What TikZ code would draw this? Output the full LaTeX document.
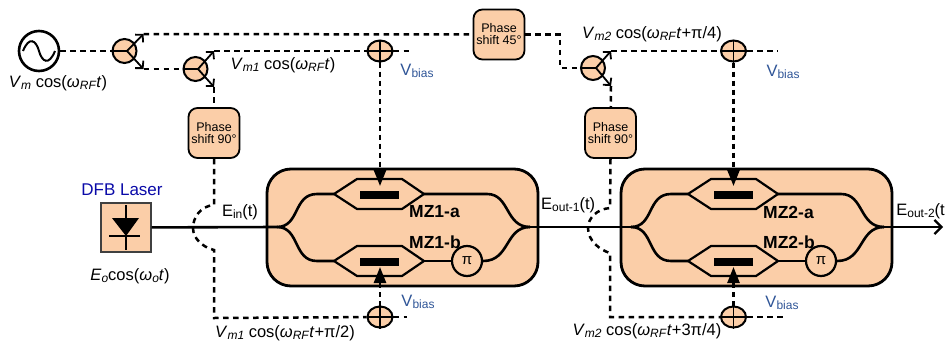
\documentclass[tikz,border=0pt]{standalone}
\usepackage{fontspec}
\setmainfont{Liberation Sans}
\usetikzlibrary{arrows.meta,shapes.geometric,calc}
\definecolor{peach}{HTML}{FBCEA8}
\definecolor{biasblue}{HTML}{2F5597}
\definecolor{dfbblue}{HTML}{0A0AA8}
\newcommand{\fs}[1]{\fontsize{#1}{#1}\selectfont}
\newcommand{\lowr}[1]{\raisebox{-2.5pt}{\fs{12}#1}}
\newcommand{\wt}{\textit{ω}}
\newcommand{\rf}{\lowr{\textit{RF}}}
\tikzset{
  x=1pt,y=-1pt,
  wire/.style={line width=2.6pt,black},
  dash wire/.style={line width=2.5pt,black,dash pattern=on 5.5pt off 4.5pt},
  barbtip/.style={-{Straight Barb[length=5pt,width=11pt,line width=1.8pt]},line width=1.8pt},
  fillhead/.style={-{Triangle[length=16pt,width=12pt]},line width=2.5pt,dash pattern=on 5pt off 4pt},
  modbox/.style={draw,fill=peach,line width=2.8pt,rounded corners=24pt,minimum width=271pt,minimum height=117pt,inner sep=0},
  phasebox/.style={draw,fill=peach,line width=1.8pt,rounded corners=9pt,minimum width=51pt,minimum height=50pt,inner sep=0,align=center,font=\fs{12.5}},
  splitter/.style={circle,draw,fill=peach,line width=2pt,minimum size=24pt,inner sep=0},
  combiner/.style={ellipse,draw,fill=peach,line width=2pt,minimum width=25pt,minimum height=21pt,inner sep=0},
  pinode/.style={circle,draw,fill=peach,line width=2.2pt,minimum size=30pt,inner sep=0,font=\fs{15}},
  hexarm/.style={draw,line width=2.2pt,fill=peach},
  elec/.style={inner sep=0,font=\fs{16.5},anchor=center},
  vbias/.style={inner sep=0,text=biasblue,font=\fs{16.5}},
  mzlabel/.style={inner sep=0,font=\fs{17.5}\bfseries},
}
\newcommand{\mzunit}[4]{%
 % #1 x offset, #2 prefix, #3 label a, #4 label b
 \begin{scope}[shift={(#1,0)}]
  \node[modbox] (#2box) at (402.5,227.5) {};
  \coordinate (#2in) at (277,227);
  \coordinate (#2out) at (530,227);
  \coordinate (#2ua) at (334,194);
  \coordinate (#2ub) at (424,194);
  \coordinate (#2la) at (334,261);
  \coordinate (#2lb) at (424,261);
  \node[pinode] (#2pi) at (467,261) {π};
  \draw[wire] (#2in) .. controls (300,227) and (293,194) .. (317,194) -- (#2ua);
  \draw[wire] (#2in) .. controls (300,227) and (293,261) .. (317,261) -- (#2la);
  \draw[wire] (#2ub) -- (487,194) .. controls (510,194) and (505,227) .. (#2out);
  \draw[wire] (#2lb) -- (#2pi);
  \draw[wire] (#2pi) .. controls (510,261) and (505,227) .. (#2out);
  \draw[hexarm] (#2ua) -- (357,179) -- (402,179) -- (#2ub) -- (402,209) -- (357,209) -- cycle;
  \draw[hexarm] (#2la) -- (357,246) -- (402,246) -- (#2lb) -- (402,276) -- (357,276) -- cycle;
  \fill (360,191) rectangle (399,199);
  \fill (360,258) rectangle (399,266);
  \node[mzlabel,anchor=west] at (409,212) {#3};
  \node[mzlabel,anchor=west] at (409,242) {#4};
 \end{scope}}
\begin{document}
\begin{tikzpicture}
\useasboundingbox (0,0) rectangle (945,343);
% coordinates
\node[circle,draw,line width=2.6pt,minimum size=40pt,inner sep=0] (src) at (39,51) {};
\draw[line width=2pt] (23,51) .. controls (29,36) and (36,40) .. (39,51) .. controls (42,62) and (49,66) .. (55,51);
\node[splitter] (s1) at (124.5,51) {};
\node[splitter] (s2) at (195.5,69) {};
\node[splitter] (s3) at (593,68) {};
\node[combiner] (c1) at (380,51) {};
\node[combiner] (c2) at (380,317) {};
\node[combiner] (c3) at (733.5,51) {};
\node[combiner] (c4) at (733.5,317) {};
\node[phasebox] (p1) at (214,133) {Phase\\[-0.5pt]shift 90°};
\node[phasebox] (p2) at (610.5,133) {Phase\\[-0.5pt]shift 90°};
\node[phasebox] (p3) at (499,34.5) {Phase\\[-0.5pt]shift 45°};
\coordinate (s1c) at (127,51); \coordinate (s2c) at (198,69); \coordinate (s3c) at (596,68);
\coordinate (s1u) at (143.5,34); \coordinate (s1d) at (143.5,69);
\coordinate (s2u) at (214,51); \coordinate (s2d) at (214,87);
\coordinate (s3u) at (611,51); \coordinate (s3d) at (611,86);
\coordinate (k1) at (560,34); \coordinate (k2) at (560,68);
\coordinate (h1a) at (214,205); \coordinate (h1b) at (214,250); \coordinate (b1) at (214,318);
\coordinate (h2a) at (610,208); \coordinate (h2b) at (610,253); \coordinate (b2) at (610,317);
\coordinate (e1) at (410,51); \coordinate (e2) at (407,317); \coordinate (e3) at (778,51); \coordinate (e4) at (783,317);
\mzunit{0}{a}{MZ1-a}{MZ1-b}
\mzunit{354}{b}{MZ2-a}{MZ2-b}
% splitter internals
\foreach \s/\u/\d in {s1/s1u/s1d,s2/s2u/s2d,s3/s3u/s3d}{
  \draw[line width=1.8pt] (\s.west) -- (\s c);
  \draw[barbtip] (\s c) -- (\u);
  \draw[barbtip] (\s c) -- (\d);
}
% combiners
\foreach \c in {c1,c2,c3,c4}{
  \draw[line width=1.4pt] (\c.west) -- (\c.east);
  \draw[line width=1.4pt] (\c.north) -- (\c.south);
}
% RF dashed lines
\draw[dash wire] (src) -- (s1);
\draw[dash wire] (s1u) -- (p3);
\draw[dash wire] (s1d) -- (s2);
\draw[dash wire] (s2u) -- (c1);
\draw[dash wire] (s2d) -- (p1);
\draw[dash wire] (p3) -- (p3 -| k1) -- (k2) -- (s3);
\draw[dash wire] (s3u) -- (c3);
\draw[dash wire] (s3d) -- (p2);
\draw[dash wire] (c1) -- (e1);
\draw[dash wire] (c2) -- (e2);
\draw[dash wire] (c3) -- (e3);
\draw[dash wire] (c4) -- (e4);
\draw[dash wire] (p1.south) -- (h1a) .. controls (200,206) and (193,218) .. (193,228) .. controls (193,238) and (202,247) .. (h1b) -- (b1) -- (c2);
\draw[dash wire] (p2.south) -- (h2a) .. controls (597,209) and (588,218) .. (588,228) .. controls (588,241) and (600,250) .. (h2b) -- (b2) -- (c4);
% laser
\node[draw=black!75,fill=peach,line width=1.2pt,minimum width=50pt,minimum height=49pt,inner sep=0] (las) at (126,227.5) {};
\draw[line width=2.6pt] (126,205) -- (126,250);
\draw[line width=2.6pt] (109,236) -- (140,236);
\fill (112,218) -- (139,218) -- (126,236) -- cycle;
% main fibre
\coordinate (outend) at (943,227);
\draw[wire] (las) -- (ain);
\draw[wire] (aout) -- (bin);
\draw[wire,-{Straight Barb[length=7pt,width=14pt,line width=2.2pt]}] (bout) -- (outend);
% bias arrows
\coordinate (ta) at (380,186); \coordinate (tb) at (380,267);
\coordinate (tc) at (733.5,186); \coordinate (td) at (733.5,267);
\draw[fillhead] (c1) -- (ta);
\draw[fillhead] (c2) -- (tb);
\draw[fillhead] (c3) -- (tc);
\draw[fillhead] (c4) -- (td);
% labels
\node[elec] (t1) at (58,83) {\textit{V}\lowr{\textit{m}} cos(\wt\rf\textit{t})};
\node[elec] (t2) at (283,65) {\textit{V}\lowr{\textit{m1}} cos(\wt\rf\textit{t})};
\node[elec] (t3) at (652,34) {\textit{V}\lowr{\textit{m2}} cos(\wt\rf\textit{t}+π/4)};
\node[elec] (t4) at (285,333) {\textit{V}\lowr{\textit{m1}} cos(\wt\rf\textit{t}+π/2)};
\node[elec] (t5) at (647,331) {\textit{V}\lowr{\textit{m2}} cos(\wt\rf\textit{t}+3π/4)};
\node[elec] (t6) at (130,276) {\textit{E}\lowr{\textit{o}}cos(\wt\lowr{\textit{o}}\textit{t})};
\node[elec,text=dfbblue,font=\fs{17}] (t7) at (122,190) {DFB Laser};
\node[elec] (t8) at (240,212) {E\lowr{in}(t)};
\node[elec,anchor=west] (t9) at (541,205) {E\lowr{out-1}(t)};
\node[elec,anchor=east] (t10) at (945,211) {E\lowr{out-2}(t};
\node[vbias] at (417,71) {V\lowr{bias}};
\node[vbias] at (418,302) {V\lowr{bias}};
\node[vbias] at (783,72) {V\lowr{bias}};
\node[vbias] at (782,303) {V\lowr{bias}};
\end{tikzpicture}
\end{document}
